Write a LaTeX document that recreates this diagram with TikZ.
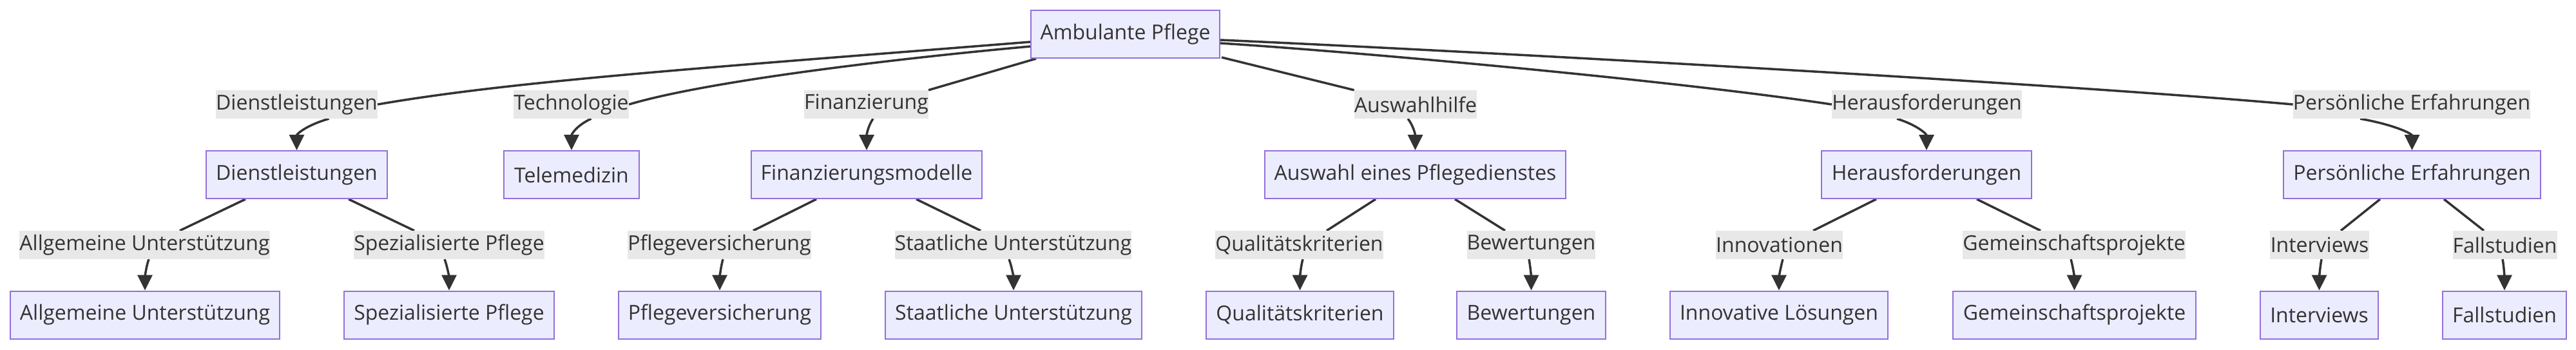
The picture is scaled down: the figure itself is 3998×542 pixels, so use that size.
\documentclass[tikz,border=0pt]{standalone}
\usepackage{fontspec}
\setmainfont{Open Sans}
\usetikzlibrary{arrows.meta}
\pgfdeclarelayer{bg}
\pgfsetlayers{bg,main}
\definecolor{nodefill}{HTML}{ECECFF}
\definecolor{nodeborder}{HTML}{9370DB}
\definecolor{edgecol}{HTML}{333333}
\definecolor{labfill}{HTML}{E8E8E8}
\definecolor{txt}{HTML}{333333}
\tikzset{
  box/.style={draw=nodeborder, fill=nodefill, line width=2pt, minimum height=74pt, inner sep=0pt,
    font=\fontsize{32pt}{38pt}\selectfont, text=txt},
  lab/.style={fill=labfill, minimum height=44pt, inner sep=0pt,
    font=\fontsize{32pt}{38pt}\selectfont, text=txt},
  edge/.style={draw=edgecol, line width=3.5pt},
  arr/.style={edge, -{Triangle[length=24pt,width=23pt]}}
}
\begin{document}
\begin{tikzpicture}[x=1pt,y=-1pt]
\path[use as bounding box] (0,0) rectangle (3998,542);
% root
\node[box, minimum width=293pt] (root) at (1746.5,53) {Ambulante Pflege};
% row 1 nodes
\node[box, minimum width=281pt] (D) at (460.5,271) {Dienstleistungen};
\node[box, minimum width=210pt] (T) at (887,271) {Telemedizin};
\node[box, minimum width=358pt] (F) at (1345,271) {Finanzierungsmodelle};
\node[box, minimum width=467pt] (A) at (2196.5,271) {Auswahl eines Pflegedienstes};
\node[box, minimum width=326pt] (H) at (2990,271) {Herausforderungen};
\node[box, minimum width=399pt] (P) at (3743.5,271) {Persönliche Erfahrungen};
% row 2 nodes
\node[box, minimum width=418pt] (AU) at (225,488.5) {Allgemeine Unterstützung};
\node[box, minimum width=326pt] (SP) at (697,488.5) {Spezialisierte Pflege};
\node[box, minimum width=314pt] (PV) at (1117,488.5) {Pflegeversicherung};
\node[box, minimum width=398pt] (SU) at (1573,488.5) {Staatliche Unterstützung};
\node[box, minimum width=291pt] (QK) at (2017.5,488.5) {Qualitätskriterien};
\node[box, minimum width=231pt] (BW) at (2376.5,488.5) {Bewertungen};
\node[box, minimum width=338pt] (IL) at (2761,488.5) {Innovative Lösungen};
\node[box, minimum width=377pt] (GP) at (3219.5,488.5) {Gemeinschaftsprojekte};
\node[box, minimum width=183pt] (IV) at (3599.5,488.5) {Interviews};
\node[box, minimum width=192pt] (FS) at (3887,488.5) {Fallstudien};
% row 1 labels
\node[lab, minimum width=249pt] (lD) at (460.5,162) {Dienstleistungen};
\node[lab, minimum width=179pt] (lT) at (886.5,162) {Technologie};
\node[lab, minimum width=191pt] (lF) at (1344.5,162) {Finanzierung};
\node[lab, minimum width=188pt] (lA) at (2197,162) {Auswahlhilfe};
\node[lab, minimum width=295pt] (lH) at (2990.5,162) {Herausforderungen};
\node[lab, minimum width=368pt] (lP) at (3743,162) {Persönliche Erfahrungen};
% row 2 labels
\node[lab, minimum width=387pt] (lAU) at (224.5,380) {Allgemeine Unterstützung};
\node[lab, minimum width=296pt] (lSP) at (697,380) {Spezialisierte Pflege};
\node[lab, minimum width=283pt] (lPV) at (1116.5,380) {Pflegeversicherung};
\node[lab, minimum width=367pt] (lSU) at (1572.5,380) {Staatliche Unterstützung};
\node[lab, minimum width=259pt] (lQK) at (2016.5,380) {Qualitätskriterien};
\node[lab, minimum width=199pt] (lBW) at (2376.5,380) {Bewertungen};
\node[lab, minimum width=197pt] (lIN) at (2761.5,380) {Innovationen};
\node[lab, minimum width=346pt] (lGP) at (3219,380) {Gemeinschaftsprojekte};
\node[lab, minimum width=154pt] (lIV) at (3600,380) {Interviews};
\node[lab, minimum width=161pt] (lFS) at (3887.5,380) {Fallstudien};
\begin{pgfonlayer}{bg}
% root -> row 1 labels
\draw[edge] ([yshift=-12pt]root.west) .. controls (1100,105) and (800,125) .. (lD.east);
\draw[edge] ([yshift=-19pt]root.west) .. controls (1400,90) and (1100,125) .. (lT.east);
\draw[edge] ([xshift=9pt]root.south west) -- (lF.north east);
\draw[edge] ([xshift=2pt,yshift=2pt]root.south east) -- (lA.north west);
\draw[edge] ([yshift=-14pt]root.east) .. controls (2100,80) and (2600,125) .. (lH.west);
\draw[edge] ([yshift=-9pt]root.east) .. controls (2300,80) and (3200,130) .. (lP.west);
% row 1 labels -> nodes
\draw[arr] ([xshift=50pt]lD.south) .. controls +(-35,10) and +(0,-25) .. (D.north);
\draw[arr] ([xshift=31pt]lT.south) .. controls +(-22,10) and +(0,-25) .. (T.north);
\draw[arr] ([xshift=10.5pt]lF.south) .. controls +(-7,10) and +(0,-25) .. (F.north);
\draw[arr] ([xshift=-12pt]lA.south) .. controls +(8,10) and +(0,-25) .. (A.north);
\draw[arr] ([xshift=-46.5pt]lH.south) .. controls +(32,10) and +(0,-25) .. (H.north);
\draw[arr] ([xshift=-80pt]lP.south) .. controls +(56,10) and +(0,-25) .. (P.north);
% row 1 nodes -> row 2 labels
\draw[edge] ([xshift=-79.5pt]D.south) -- ([xshift=54.5pt]lAU.north);
\draw[edge] ([xshift=80.5pt]D.south) -- ([xshift=-54pt]lSP.north);
\draw[edge] ([xshift=-78pt]F.south) -- ([xshift=52.5pt]lPV.north);
\draw[edge] ([xshift=77pt]F.south) -- ([xshift=-50.5pt]lSU.north);
\draw[edge] ([xshift=-61.5pt]A.south) -- ([xshift=42.5pt]lQK.north);
\draw[edge] ([xshift=61.5pt]A.south) -- ([xshift=-40.5pt]lBW.north);
\draw[edge] ([xshift=-78pt]H.south) -- ([xshift=52.5pt]lIN.north);
\draw[edge] ([xshift=78pt]H.south) -- ([xshift=-52pt]lGP.north);
\draw[edge] ([xshift=-49.5pt]P.south) -- ([xshift=33pt]lIV.north);
\draw[edge] ([xshift=49.5pt]P.south) -- ([xshift=-32.5pt]lFS.north);
% row 2 labels -> nodes
\draw[arr] ([xshift=6.5pt]lAU.south) .. controls +(-4,10) and +(0,-20) .. (AU.north);
\draw[arr] ([xshift=-7pt]lSP.south) .. controls +(4,10) and +(0,-20) .. (SP.north);
\draw[arr] ([xshift=5.5pt]lPV.south) .. controls +(-3,10) and +(0,-20) .. (PV.north);
\draw[arr] ([xshift=-6.5pt]lSU.south) .. controls +(4,10) and +(0,-20) .. (SU.north);
\draw[arr] ([xshift=5.5pt]lQK.south) .. controls +(-3,10) and +(0,-20) .. (QK.north);
\draw[arr] ([xshift=-3.5pt]lBW.south) .. controls +(2,10) and +(0,-20) .. (BW.north);
\draw[arr] ([xshift=5.5pt]lIN.south) .. controls +(-3,10) and +(0,-20) .. (IL.north);
\draw[arr] ([xshift=-5pt]lGP.south) .. controls +(3,10) and +(0,-20) .. (GP.north);
\draw[arr] ([xshift=3pt]lIV.south) .. controls +(-2,10) and +(0,-20) .. (IV.north);
\draw[arr] ([xshift=-3.5pt]lFS.south) .. controls +(2,10) and +(0,-20) .. (FS.north);
\end{pgfonlayer}
\end{tikzpicture}
\end{document}
